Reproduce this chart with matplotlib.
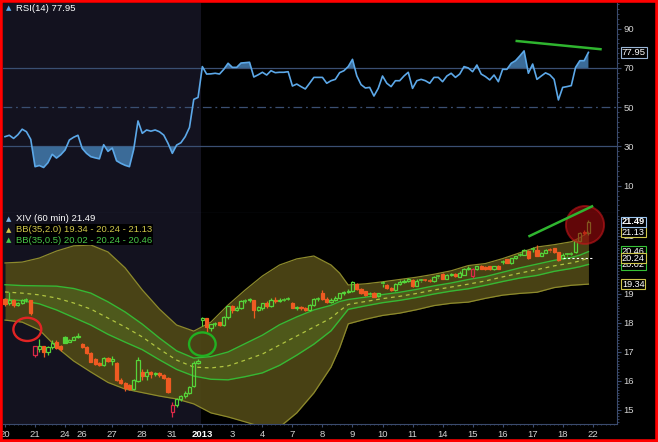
import matplotlib
matplotlib.use('Agg')
import matplotlib.pyplot as plt
import matplotlib.transforms as mtransforms
from matplotlib.patches import Rectangle, Ellipse
from matplotlib.ticker import MultipleLocator
import numpy as np

plt.rcParams['font.family'] = ['Liberation Sans', 'DejaVu Sans']

# ---- data (60 min bars, Dec 20 -> Jan 18) ----
day_starts = [0, 7, 14, 18, 25, 32, 39, 46, 53, 60, 67, 74, 81, 88, 95, 102, 109, 116, 123, 130, 137]
day_labels = ['20', '21', '24', '26', '27', '28', '31', '2013', '3', '4', '7', '8', '9', '10', '11',
              '14', '15', '16', '17', '18', '22']

opens = [18.82, 18.68, 18.80, 18.62, 18.70, 18.78, 18.78, 16.88, 17.09, 17.20,
         17.00, 17.18, 17.36, 17.20, 17.53, 17.36, 17.43, 17.50, 17.28, 17.17,
         16.97, 16.76, 16.62, 16.56, 16.80, 16.70, 16.62, 16.05, 15.92, 15.86,
         15.72, 16.00, 16.30, 16.18, 16.32, 16.24, 16.29, 16.20, 16.12, 14.94,
         15.17, 15.38, 15.48, 15.60, 15.82, 16.62, 18.10, 18.16, 17.82, 17.95,
         18.02, 17.92, 18.20, 18.57, 18.45, 18.52, 18.75, 18.78, 18.78, 18.45,
         18.50, 18.70, 18.58, 18.80, 18.75, 18.80, 18.82, 18.68, 18.52, 18.56,
         18.50, 18.45, 18.62, 18.82, 19.05, 18.83, 18.72, 18.80, 18.86, 19.02,
         19.08, 19.12, 19.34, 19.16, 19.10, 18.97, 19.05, 18.92, 19.36, 19.32,
         19.22, 19.15, 19.35, 19.40, 19.45, 19.48, 19.29, 19.46, 19.49, 19.47,
         19.45, 19.60, 19.68, 19.52, 19.66, 19.70, 19.60, 19.66, 19.86, 19.62,
         19.86, 19.98, 19.93, 19.96, 19.85, 19.98, 20.10, 20.20, 20.06, 20.23,
         20.33, 20.36, 20.48, 20.55, 20.52, 20.32, 20.43, 20.52, 20.57, 20.44,
         20.25, 20.35, 20.38, 20.46, 20.82, 21.14, 21.09]
highs = [18.86, 19.08, 18.84, 18.74, 18.82, 18.86, 18.80, 17.22, 17.46, 17.22,
         17.20, 17.42, 17.40, 17.24, 17.56, 17.46, 17.54, 17.64, 17.30, 17.20,
         17.00, 16.79, 16.65, 16.84, 16.83, 16.86, 16.66, 16.10, 15.96, 15.89,
         16.06, 16.84, 16.40, 16.40, 16.36, 16.32, 16.32, 16.24, 16.15, 15.29,
         15.41, 15.51, 15.64, 15.83, 16.70, 16.76, 18.22, 18.18, 17.98, 18.02,
         18.05, 18.24, 18.60, 18.62, 18.58, 18.80, 18.82, 18.86, 18.80, 18.60,
         18.70, 18.75, 18.85, 18.88, 18.85, 18.86, 18.88, 18.72, 18.60, 18.60,
         18.55, 18.65, 18.85, 18.88, 19.15, 18.90, 18.85, 18.92, 19.05, 19.12,
         19.16, 19.45, 19.38, 19.20, 19.12, 19.08, 19.07, 19.05, 19.45, 19.34,
         19.25, 19.38, 19.48, 19.50, 19.55, 19.52, 19.50, 19.52, 19.52, 19.50,
         19.62, 19.65, 19.72, 19.68, 19.74, 19.72, 19.80, 19.88, 19.98, 19.88,
         19.98, 20.00, 19.98, 19.98, 19.98, 20.00, 20.18, 20.22, 20.25, 20.32,
         20.40, 20.55, 20.52, 20.62, 20.68, 20.45, 20.55, 20.58, 20.60, 20.46,
         20.40, 20.42, 20.44, 20.86, 21.15, 21.22, 21.56]
lows = [18.60, 18.62, 18.56, 18.58, 18.65, 18.72, 18.26, 16.82, 17.00, 16.82,
        16.90, 17.10, 17.10, 17.04, 17.30, 17.33, 17.40, 17.47, 17.14, 16.92,
        16.64, 16.54, 16.51, 16.52, 16.64, 16.56, 16.00, 15.88, 15.64, 15.70,
        15.68, 15.96, 16.04, 16.04, 16.12, 16.18, 16.15, 16.08, 15.58, 14.77,
        15.12, 15.30, 15.42, 15.55, 15.78, 16.58, 17.90, 17.70, 17.72, 17.88,
        17.88, 17.90, 18.15, 18.35, 18.40, 18.48, 18.70, 18.72, 18.17, 18.40,
        18.45, 18.50, 18.55, 18.70, 18.72, 18.76, 18.78, 18.50, 18.45, 18.45,
        18.40, 18.42, 18.60, 18.75, 18.80, 18.68, 18.70, 18.76, 18.82, 18.98,
        19.02, 19.08, 19.14, 19.00, 18.94, 18.93, 18.88, 18.90, 19.25, 19.18,
        19.12, 19.12, 19.30, 19.38, 19.42, 19.25, 19.27, 19.42, 19.44, 19.40,
        19.43, 19.55, 19.50, 19.50, 19.62, 19.60, 19.58, 19.64, 19.82, 19.56,
        19.84, 19.85, 19.84, 19.83, 19.82, 19.85, 20.02, 20.06, 20.04, 20.20,
        20.30, 20.34, 20.20, 20.45, 20.30, 20.30, 20.40, 20.46, 20.42, 20.15,
        20.22, 20.32, 20.35, 20.42, 20.78, 21.05, 21.05]
closes = [18.64, 18.80, 18.62, 18.70, 18.78, 18.80, 18.36, 17.20, 17.22, 17.00,
          17.18, 17.30, 17.14, 17.10, 17.32, 17.43, 17.50, 17.56, 17.17, 16.95,
          16.67, 16.58, 16.55, 16.80, 16.70, 16.76, 16.05, 15.92, 15.76, 15.72,
          16.02, 16.72, 16.18, 16.30, 16.24, 16.29, 16.20, 16.12, 15.63, 15.17,
          15.38, 15.48, 15.60, 15.80, 16.62, 16.70, 18.18, 17.87, 17.95, 17.98,
          17.92, 18.20, 18.57, 18.45, 18.52, 18.75, 18.78, 18.82, 18.45, 18.55,
          18.68, 18.58, 18.80, 18.75, 18.80, 18.82, 18.84, 18.52, 18.56, 18.50,
          18.45, 18.62, 18.82, 18.84, 18.83, 18.72, 18.80, 18.86, 19.02, 19.08,
          19.12, 19.40, 19.16, 19.03, 18.97, 19.00, 18.90, 19.02, 19.39, 19.22,
          19.15, 19.35, 19.40, 19.45, 19.50, 19.29, 19.46, 19.49, 19.47, 19.44,
          19.60, 19.62, 19.52, 19.66, 19.70, 19.63, 19.72, 19.86, 19.90, 19.86,
          19.96, 19.87, 19.86, 19.85, 19.95, 19.86, 20.12, 20.08, 20.23, 20.30,
          20.36, 20.52, 20.23, 20.57, 20.32, 20.43, 20.50, 20.49, 20.44, 20.17,
          20.35, 20.38, 20.40, 20.82, 21.10, 21.09, 21.49]

rsi = [35.0, 35.7, 34.1, 36.0, 38.8, 37.5, 33.6, 19.7, 20.3, 19.3,
       21.7, 26.0, 24.1, 25.8, 28.2, 33.3, 34.7, 35.7, 29.0, 26.5,
       24.8, 24.2, 23.7, 30.9, 27.5, 29.2, 22.7, 21.4, 20.4, 19.7,
       28.5, 43.0, 36.7, 38.4, 37.8, 38.4, 37.5, 35.8, 31.6, 26.5,
       30.7, 31.9, 35.0, 39.7, 54.0, 55.0, 70.7, 66.9, 67.0, 67.3,
       66.9, 69.3, 72.4, 70.3, 70.3, 72.5, 72.7, 72.9, 65.4, 66.5,
       67.8, 66.4, 68.6, 67.6, 67.8, 67.8, 68.1, 60.8, 61.8, 60.5,
       59.3, 62.2, 65.2, 65.2, 65.2, 62.2, 63.5, 64.2, 67.6, 68.6,
       70.7, 74.4, 66.0, 61.5, 59.8, 60.1, 55.7, 59.6, 65.9, 62.2,
       60.5, 63.5, 63.5, 65.9, 67.8, 59.6, 63.5, 64.2, 63.5, 62.2,
       65.2, 65.2, 63.0, 65.9, 67.3, 65.2, 66.9, 70.7, 70.0, 68.1,
       71.5, 66.9, 65.6, 63.9, 66.4, 63.0, 69.3, 69.3, 72.4, 73.7,
       76.1, 78.7, 67.3, 72.0, 64.2, 65.9, 67.5, 66.5, 64.2, 53.7,
       60.1, 60.5, 61.0, 70.3, 73.7, 73.7, 77.95]

# Bollinger bands at these bars
band_bars = [0, 4, 8, 12, 16, 20, 24, 28, 32, 36, 40, 44, 48, 52, 56, 60, 64, 68, 72, 76, 78,
             80, 84, 88, 92, 96, 100, 104, 108, 112, 116, 120, 124, 128, 132, 134, 136]
bb2_upper = [20.07, 20.10, 20.24, 20.48, 20.66, 20.69, 20.45, 19.90, 19.14, 18.48, 17.93, 17.72,
             18.03, 18.62, 19.14, 19.62, 20.00, 20.21, 20.31, 20.00, 19.72, 19.31, 19.35, 19.42,
             19.50, 19.58, 19.68, 19.80, 19.98, 20.05, 20.22, 20.42, 20.62, 20.70, 20.80, 20.94, 21.13]
bb_mid = [19.07, 19.03, 18.97, 18.86, 18.69, 18.48, 18.17, 17.86, 17.52, 17.10, 16.72, 16.48,
          16.45, 16.52, 16.72, 16.93, 17.24, 17.55, 17.86, 18.17, 18.42, 18.64, 18.74, 18.84,
          18.92, 19.02, 19.14, 19.24, 19.34, 19.45, 19.59, 19.72, 19.84, 19.97, 20.07, 20.14, 20.24]
bb2_lower = [18.10, 18.03, 17.76, 17.17, 16.69, 16.31, 15.95, 15.72, 15.60, 15.48, 15.38, 15.21,
             14.90, 14.76, 14.59, 14.41, 14.41, 14.90, 15.59, 16.48, 17.14, 17.97, 18.13, 18.26,
             18.34, 18.46, 18.60, 18.68, 18.72, 18.85, 18.96, 19.02, 19.06, 19.22, 19.30, 19.32, 19.34]
bb05_upper = [19.32, 19.29, 19.28, 19.27, 19.19, 19.03, 18.73, 18.38, 17.96, 17.48, 17.04, 16.79,
              16.84, 17.00, 17.29, 17.58, 17.94, 18.21, 18.45, 18.61, 18.74, 18.81, 18.89, 18.98,
              19.06, 19.16, 19.28, 19.38, 19.50, 19.60, 19.75, 19.90, 20.03, 20.16, 20.26, 20.34, 20.46]
bb05_lower = [18.82, 18.77, 18.66, 18.45, 18.19, 17.93, 17.61, 17.34, 17.08, 16.73, 16.40, 16.17,
              16.06, 16.04, 16.15, 16.28, 16.54, 16.89, 17.27, 17.73, 18.10, 18.47, 18.59, 18.70,
              18.78, 18.88, 19.00, 19.10, 19.18, 19.30, 19.43, 19.55, 19.64, 19.78, 19.88, 19.94, 20.02]

# hand-drawn marks on the chart
rsi_trend_x = [119.0, 139.1]
rsi_trend_y = [83.8, 79.5]
px_trend_x = [122.0, 137.1]
px_trend_y = [20.98, 22.04]

# colours
bg_old = '#13121f'
axis_c = '#3b4b6e'
grid_c = '#3a4f72'
green = '#55d43a'
red = '#ef5a22'
red_hollow = '#dc2a48'
tick_c = '#d4d4d4'

W, H = 658, 442
fig = plt.figure(figsize=(W / 100, H / 100), dpi=100, facecolor='black')


def px_axes(x0, y0, x1, y1):
    return fig.add_axes([x0 / W, 1 - y1 / H, (x1 - x0) / W, (y1 - y0) / H])


ax_rsi = px_axes(3, 3, 617, 213)
ax_px = px_axes(3, 213, 617, 424)

n = len(closes)
xs = np.arange(n)
rsi_a = np.array(rsi)
split = day_starts[day_labels.index('2013')] - 0.2

for ax in (ax_rsi, ax_px):
    ax.set_facecolor('black')
    ax.set_xlim(-0.47, 142.66)
    ax.axvspan(-1, split, color=bg_old, lw=0, zorder=0)
    ax.spines['top'].set_visible(False)
    ax.spines['left'].set_visible(False)
    ax.spines['right'].set_color(axis_c)
    ax.spines['bottom'].set_color(axis_c)
    ax.yaxis.tick_right()
    ax.tick_params(axis='y', which='major', length=3, color=axis_c, labelsize=6.8,
                   labelcolor=tick_c, pad=1.5)
    ax.tick_params(axis='y', which='minor', length=1.5, color=axis_c)

# ---- RSI panel ----
ax_rsi.set_ylim(-3.9, 103.1)
ax_rsi.set_yticks([10, 30, 50, 70, 90])
ax_rsi.yaxis.set_minor_locator(MultipleLocator(2.5))
ax_rsi.set_xticks([])
ax_rsi.axhline(70, color=grid_c, lw=0.9, zorder=1)
ax_rsi.axhline(30, color=grid_c, lw=0.9, zorder=1)
ax_rsi.axhline(50, color=grid_c, lw=0.9, ls=(0, (7, 3, 1.5, 3)), zorder=1)
ax_rsi.fill_between(xs, rsi_a, 70, where=rsi_a >= 70, interpolate=True, color='#3b6b98', lw=0, zorder=2)
ax_rsi.fill_between(xs, rsi_a, 30, where=rsi_a <= 30, interpolate=True, color='#3b6b98', lw=0, zorder=2)
ax_rsi.plot(xs, rsi_a, color='#5ca8e8', lw=1.2, zorder=3)
ax_rsi.plot(rsi_trend_x, rsi_trend_y, color='#2fb52f', lw=1.8, solid_capstyle='butt', zorder=4,
            clip_on=False)

ax_rsi.text(0.021, 0.976, 'RSI(14) %.2f' % rsi[-1], transform=ax_rsi.transAxes, color='white',
            fontsize=6.8, va='center', ha='left')
ax_rsi.text(0.005, 0.976, '\u25b2', transform=ax_rsi.transAxes, color='#5ca8e8',
            fontsize=5, va='center', ha='left', family='DejaVu Sans')

tr_r = mtransforms.blended_transform_factory(ax_rsi.transAxes, ax_rsi.transData)
ax_rsi.text(1.008, rsi[-1], '%.2f' % rsi[-1], transform=tr_r, color='white', fontsize=6.8,
            va='center', ha='left', zorder=6,
            bbox=dict(boxstyle='square,pad=0.1', fc='black', ec='#9ab6d6', lw=0.8))

# ---- price panel ----
ax_px.set_ylim(14.517, 21.793)
ax_px.set_yticks([15, 16, 17, 18, 19, 20, 21])
ax_px.yaxis.set_minor_locator(MultipleLocator(0.1))

ax_px.fill_between(band_bars, bb2_lower, bb2_upper, color='#4e4716', alpha=0.93, lw=0, zorder=1)
ax_px.plot(band_bars, bb2_upper, color='#8d8a2c', lw=0.9, zorder=1.5)
ax_px.plot(band_bars, bb2_lower, color='#8d8a2c', lw=0.9, zorder=1.5)
ax_px.fill_between(band_bars, bb05_lower, bb05_upper, color='#5c8e2a', alpha=0.30, lw=0, zorder=1.2)
ax_px.plot(band_bars, bb05_upper, color='#36b834', lw=1.0, zorder=1.6)
ax_px.plot(band_bars, bb05_lower, color='#36b834', lw=1.0, zorder=1.6)
ax_px.plot(band_bars, bb_mid, color='#b0c440', lw=0.9, ls=(0, (3, 3)), zorder=1.6)

bw = 0.74
for i in range(n):
    o, h, l, c = opens[i], highs[i], lows[i], closes[i]
    prev = closes[i - 1] if i > 0 else o
    hollow = c > o
    if c >= prev:
        col = green
    else:
        col = red_hollow if hollow else red
    lo_b, hi_b = min(o, c), max(o, c)
    ax_px.vlines(i, l, lo_b, colors=col, lw=0.9, zorder=3)
    ax_px.vlines(i, hi_b, h, colors=col, lw=0.9, zorder=3)
    if hi_b - lo_b < 0.035:
        ax_px.hlines((o + c) / 2, i - bw / 2 - 0.1, i + bw / 2 + 0.1, colors=col, lw=1.1, zorder=3)
    else:
        ax_px.add_patch(Rectangle((i - bw / 2, lo_b), bw, hi_b - lo_b,
                                  facecolor='none' if hollow else col, edgecolor=col,
                                  lw=0.9, zorder=3))

# marker line at the current middle band
ax_px.hlines(bb_mid[-1], day_starts[-2], day_starts[-1] + 0.3, colors='white', lw=0.8,
             linestyles=(0, (2, 2)), zorder=3)

# hand-drawn annotations
ax_px.add_patch(Ellipse((5.2, 17.78), 6.5, 0.80, fill=False, ec='#e22424', lw=1.7, zorder=5))
ax_px.add_patch(Ellipse((46.0, 17.27), 6.2, 0.81, fill=False, ec='#22b022', lw=1.7, zorder=5))
ax_px.add_patch(Ellipse((135.2, 21.38), 8.9, 1.31, fc=(0.62, 0.04, 0.05), alpha=0.62,
                        ec='#c0161a', lw=1.4, zorder=5, clip_on=False))
ax_px.plot(px_trend_x, px_trend_y, color='#2fb52f', lw=1.8, solid_capstyle='butt', zorder=6,
           clip_on=False)

# legend lines
leg = [('XIV (60 min) %.2f' % closes[-1], 'white', '#7fb0e0', 0.9716, None),
       ('BB(35,2.0) %.2f - %.2f - %.2f' % (bb2_lower[-1], bb_mid[-1], bb2_upper[-1]),
        '#cfc64a', '#cfc64a', 0.921, 'black'),
       ('BB(35,0.5) %.2f - %.2f - %.2f' % (bb05_lower[-1], bb_mid[-1], bb05_upper[-1]),
        '#48c648', '#48c648', 0.872, 'black')]
for txt, col, icol, yy, bgc in leg:
    kw = {}
    if bgc:
        kw['bbox'] = dict(boxstyle='square,pad=0.1', fc=bgc, ec='none')
    ax_px.text(0.021, yy, txt, transform=ax_px.transAxes, color=col, fontsize=6.8,
               va='center', ha='left', zorder=7, **kw)
    ax_px.text(0.005, yy, '\u25b2', transform=ax_px.transAxes, color=icol, fontsize=5,
               va='center', ha='left', family='DejaVu Sans', zorder=7)

# value boxes on the price scale (they overlap as on the original)
tr_p = mtransforms.blended_transform_factory(ax_px.transAxes, ax_px.transData)
boxes = [(bb05_upper[-1], '#36c236', False), (bb05_lower[-1], '#36c236', False),
         (bb_mid[-1], '#cfc64a', False), (bb2_lower[-1], '#cfc64a', False),
         (bb2_upper[-1], '#cfc64a', False), (closes[-1], '#9ac4ee', True)]
for k, (val, ec, bold) in enumerate(boxes):
    ax_px.text(1.008, val, '%.2f' % val, transform=tr_p, color='white', fontsize=6.6,
               fontweight='bold' if bold else 'normal', va='center', ha='left', zorder=8 + k,
               clip_on=False,
               bbox=dict(boxstyle='square,pad=0.08', fc='black', ec=ec, lw=0.8))

# x axis
ax_px.set_xticks(day_starts)
ax_px.set_xticklabels(day_labels)
ax_px.xaxis.set_minor_locator(MultipleLocator(1))
ax_px.tick_params(axis='x', which='major', length=2, color=axis_c, labelsize=6.8,
                  labelcolor=tick_c, pad=2)
ax_px.tick_params(axis='x', which='minor', length=1, color=axis_c)
for lbl in ax_px.get_xticklabels():
    if lbl.get_text() == '2013':
        lbl.set_fontweight('bold')
        lbl.set_color('white')

# red frame round the whole picture
fig.add_artist(Rectangle((0, 0), 1, 1, transform=fig.transFigure, fill=False,
                         ec='#ff0000', lw=4))

fig.savefig('out.png', dpi=100, facecolor='black')
